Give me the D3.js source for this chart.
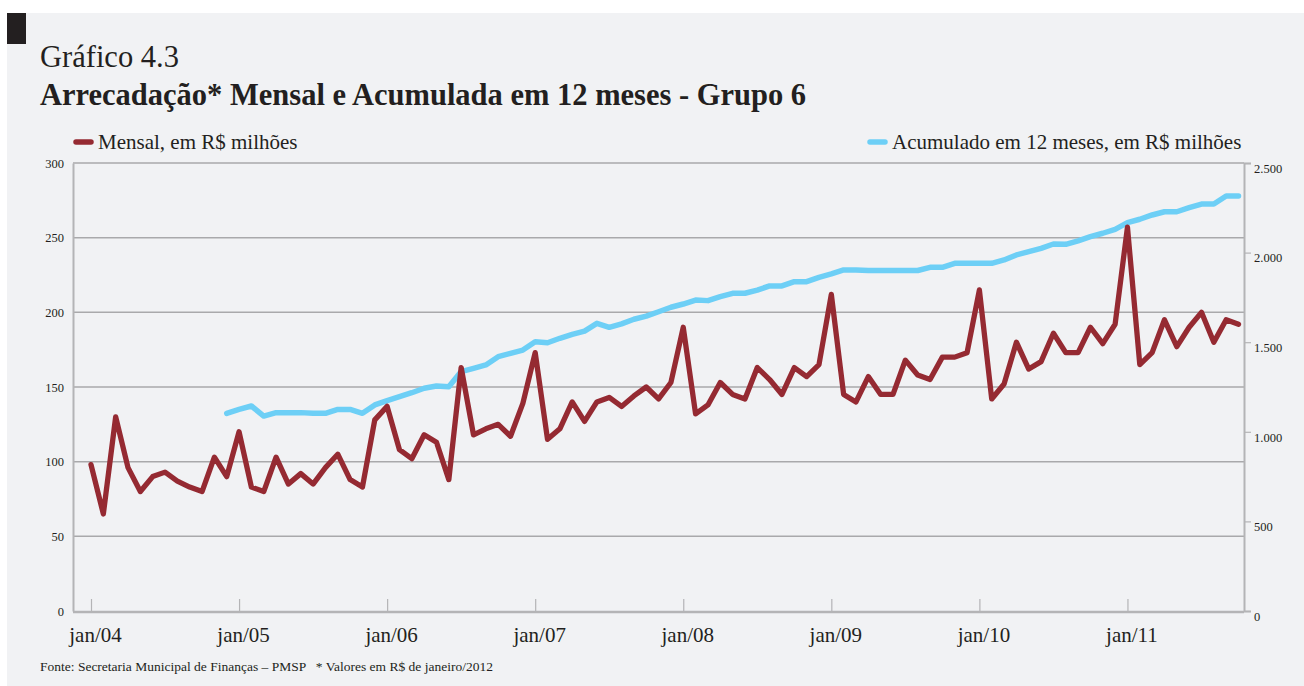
<!DOCTYPE html>
<html>
<head>
<meta charset="utf-8">
<script src="https://cdn.jsdelivr.net/npm/d3@7"></script>
<style>
  html, body { margin: 0; padding: 0; background: #fff; }
  svg { display: block; font-family: "Liberation Serif", "DejaVu Serif", serif; }
</style>
</head>
<body>
<svg id="chart" width="1304" height="686"></svg>
<script>
// Monthly revenue, jan/04 .. oct/11 (R$ millions)
const mensal = [
  98, 65, 130, 96, 80, 90, 93, 87, 83, 80, 103, 90,
  120, 83, 80, 103, 85, 92, 85, 96, 105, 88, 83, 128,
  137, 108, 102, 118, 113, 88, 163, 118, 122, 125, 117, 139,
  173, 115, 122, 140, 127, 140, 143, 137, 144, 150, 142, 153,
  190, 132, 138, 153, 145, 142, 163, 155, 145, 163, 157, 165,
  212, 145, 140, 157, 145, 145, 168, 158, 155, 170, 170, 173,
  215, 142, 152, 180, 162, 167, 186, 173, 173, 190, 179, 192,
  257, 165, 173, 195, 177, 190, 200, 180, 195, 192
];

// 12-month accumulated, dec/04 .. oct/11 (R$ millions)
const acumulado = [
  1103,
  1125, 1144, 1088, 1107, 1107, 1107, 1103, 1103, 1125, 1125, 1103, 1150,
  1174, 1196, 1218, 1243, 1256, 1252, 1336, 1354, 1373, 1419, 1438, 1456,
  1503, 1497, 1522, 1544, 1562, 1605, 1583, 1602, 1628, 1646, 1670, 1695,
  1713, 1735, 1732, 1754, 1773, 1773, 1791, 1814, 1814, 1838, 1838, 1862,
  1881, 1903, 1903, 1900, 1900, 1900, 1900, 1900, 1918, 1918, 1940, 1940,
  1940, 1940, 1959, 1987, 2005, 2024, 2048, 2046, 2066, 2089, 2108, 2130,
  2167, 2186, 2210, 2228, 2228, 2251, 2271, 2271, 2316, 2316
];
const acumuladoStart = 11; // first month index with 12 months of data

const xTickLabels = ["jan/04", "jan/05", "jan/06", "jan/07", "jan/08", "jan/09", "jan/10", "jan/11"];
const leftTicks = [0, 50, 100, 150, 200, 250, 300];
const rightTicks = [0, 500, 1000, 1500, 2000, 2500];

const RED = "#952a32";
const BLUE = "#6dcff6";
const GRID = "#a9a9ab";
const AXIS = "#b4b4b6";
const TEXT = "#231f20";

const svg = d3.select("#chart");

// panel background + black corner mark
svg.append("rect").attr("x", 7).attr("y", 13).attr("width", 1297).attr("height", 673).attr("fill", "#f1f2f4");
svg.append("rect").attr("x", 7).attr("y", 13).attr("width", 19).attr("height", 31).attr("fill", TEXT);

// titles
svg.append("text").attr("x", 40).attr("y", 67)
  .attr("font-size", 30.5).attr("fill", TEXT).text("Gráfico 4.3");
svg.append("text").attr("x", 40).attr("y", 105)
  .attr("font-size", 30.5).attr("font-weight", "bold").attr("fill", TEXT)
  .text("Arrecadação* Mensal e Acumulada em 12 meses - Grupo 6");

// plot frame
const frame = { left: 73, right: 1244, top: 163, bottom: 611 };

const x = d3.scaleLinear().domain([0, 93]).range([91, 1238.5]);
const yLeft = d3.scaleLinear().domain([0, 300]).range([frame.bottom, frame.top]);
const yRight = d3.scaleLinear().domain([0, 2500]).range([frame.bottom, frame.top]);

const locale = d3.formatLocale({ decimal: ",", thousands: ".", grouping: [3], currency: ["R$", ""] });
const fmt = locale.format(",d");

// gridlines
svg.append("g")
  .selectAll("line")
  .data(leftTicks.filter(d => d > 0))
  .join("line")
  .attr("x1", frame.left).attr("x2", frame.right)
  .attr("y1", d => yLeft(d)).attr("y2", d => yLeft(d))
  .attr("stroke", GRID).attr("stroke-width", 1.5);

// left axis
const gLeft = svg.append("g")
  .attr("transform", `translate(${frame.left},0)`)
  .call(d3.axisLeft(yLeft).tickValues(leftTicks).tickSize(0).tickPadding(9).tickFormat(fmt));
gLeft.select(".domain").attr("stroke", AXIS).attr("stroke-width", 2);
gLeft.selectAll("text").attr("font-family", "Liberation Serif").attr("font-size", 12.5).attr("fill", TEXT);

// right axis
const gRight = svg.append("g")
  .attr("transform", `translate(${frame.right},0)`)
  .call(d3.axisRight(yRight).tickValues(rightTicks).tickSize(7).tickPadding(3).tickFormat(fmt));
gRight.select(".domain").attr("stroke", AXIS).attr("stroke-width", 2);
gRight.selectAll(".tick line").attr("stroke", AXIS).attr("stroke-width", 1.2);
gRight.selectAll("text").attr("font-family", "Liberation Serif").attr("font-size", 12.5)
  .attr("fill", TEXT).attr("dy", "0.75em");

// bottom axis, ticks pointing up at each January
const janIdx = xTickLabels.map((d, i) => i * 12);
const gBottom = svg.append("g")
  .attr("transform", `translate(0,${frame.bottom})`)
  .call(d3.axisBottom(x).tickValues(janIdx).tickSize(-12).tickPadding(16)
    .tickFormat((d, i) => xTickLabels[i]));
gBottom.select(".domain").remove();
gBottom.selectAll(".tick line").attr("stroke", AXIS).attr("stroke-width", 1.2);
gBottom.selectAll("text").attr("font-family", "Liberation Serif").attr("font-size", 21)
  .attr("fill", TEXT).attr("dx", 4);
svg.append("line")
  .attr("x1", frame.left).attr("x2", frame.right)
  .attr("y1", frame.bottom + 1).attr("y2", frame.bottom + 1)
  .attr("stroke", AXIS).attr("stroke-width", 2.5);

// series
const lineLeft = d3.line().x((d, i) => x(i)).y(d => yLeft(d));
const lineRight = d3.line().x((d, i) => x(i + acumuladoStart)).y(d => yRight(d));

svg.append("path")
  .datum(acumulado)
  .attr("d", lineRight)
  .attr("fill", "none").attr("stroke", BLUE).attr("stroke-width", 5.5)
  .attr("stroke-linejoin", "round").attr("stroke-linecap", "round");

svg.append("path")
  .datum(mensal)
  .attr("d", lineLeft)
  .attr("fill", "none").attr("stroke", RED).attr("stroke-width", 5.3)
  .attr("stroke-linejoin", "round").attr("stroke-linecap", "round");

// legend
const legend = [
  { label: "Mensal, em R$ milhões", color: RED, x: 76 },
  { label: "Acumulado em 12 meses, em R$ milhões", color: BLUE, x: 870 }
];
const lg = svg.append("g").selectAll("g").data(legend).join("g")
  .attr("transform", d => `translate(${d.x},142)`);
lg.append("line").attr("x1", 0).attr("x2", 15).attr("y1", 0).attr("y2", 0)
  .attr("stroke", d => d.color).attr("stroke-width", 5.5).attr("stroke-linecap", "round");
lg.append("text").attr("x", 22).attr("y", 7)
  .attr("font-size", 21).attr("fill", TEXT).text(d => d.label);

// footer
svg.append("text").attr("x", 40).attr("y", 671)
  .attr("font-size", 13.5).attr("fill", TEXT)
  .style("white-space", "pre")
  .text("Fonte: Secretaria Municipal de Finanças – PMSP   * Valores em R$ de janeiro/2012");
</script>
</body>
</html>
